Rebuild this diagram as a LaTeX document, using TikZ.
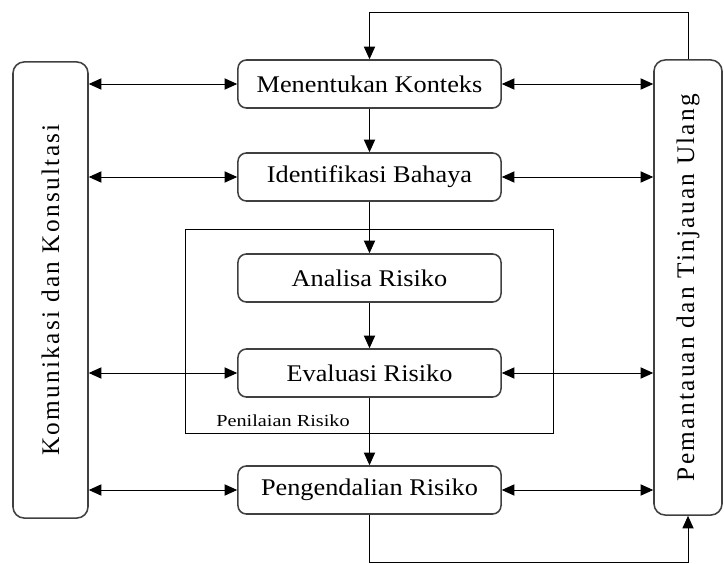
\documentclass[tikz,border=0pt]{standalone}
\usepackage{fontspec}
\setmainfont{Liberation Serif}
\newfontfamily\stagefont[FakeStretch=1.1]{Liberation Serif}
\newfontfamily\sidefont[LetterSpace=9]{Liberation Serif}
\newfontfamily\smallfont[FakeStretch=1.2]{Liberation Serif}
\usetikzlibrary{arrows.meta, positioning}

\begin{document}
\begin{tikzpicture}[x=0.025cm, y=-0.025cm, >={Triangle[length=9pt, width=8pt]},
    line width=0.7pt,
    stage/.style={draw=black!75, line width=1.1pt, rounded corners=6pt,
        minimum width=6.575cm, minimum height=1.2cm, inner sep=0pt,
        font=\stagefont\fontsize{17}{19}\selectfont},
    sidebox/.style={draw=black!75, line width=1.1pt, rounded corners=8pt,
        rotate=90, inner sep=0pt, font=\sidefont\fontsize{18}{20}\selectfont}]

\useasboundingbox (0,0) rectangle (724,564);

% ── SIDE BOXES ───────────────────────────────────────────────────
\node[sidebox, minimum width=11.4cm, minimum height=1.875cm] (kom) at (50.5, 290)
    {Komunikasi dan Konsultasi};
\node[sidebox, minimum width=11.375cm, minimum height=1.7cm] (pem) at (688, 287.5)
    {Pemantauan dan Tinjauan Ulang};

% ── MAIN STEPS ───────────────────────────────────────────────────
\node[stage] (konteks) at (369.5, 84) {Menentukan Konteks};
\node[stage] (bahaya) at (369.5, 177) {Identifikasi Bahaya};
\node[stage] (analisa) at (369.5, 278) {Analisa Risiko};
\node[stage] (evaluasi) at (369.5, 373) {Evaluasi Risiko};
\node[stage] (kendali) at (369.5, 490) {Pengendalian Risiko};

% Penilaian frame
\node[draw, minimum width=9.175cm, minimum height=5.075cm, inner sep=0pt] (penilaian)
    at (369.5, 331.5) {};
\node[font=\smallfont\fontsize{12}{14}\selectfont] (penlabel) at (283, 421) {Penilaian Risiko};

% Flow down
\draw[->] (konteks) -- (bahaya);
\draw[->] (bahaya) -- (analisa);
\draw[->] (analisa) -- (evaluasi);
\draw[->] (evaluasi) -- (kendali);

% Links to both sides
\foreach \s in {konteks, bahaya, evaluasi, kendali} {
    \draw[<->] (kom.south |- \s) -- (\s);
    \draw[<->] (\s) -- (pem.north |- \s);
}

% Feedback loops
\coordinate (topturn) at (369.5, 12);
\coordinate (botturn) at (369.5, 562);
\draw[->] (pem.east) |- (topturn) -- (konteks);
\draw[->] (kendali) -- (botturn) -| (pem.west);

\end{tikzpicture}
\end{document}
